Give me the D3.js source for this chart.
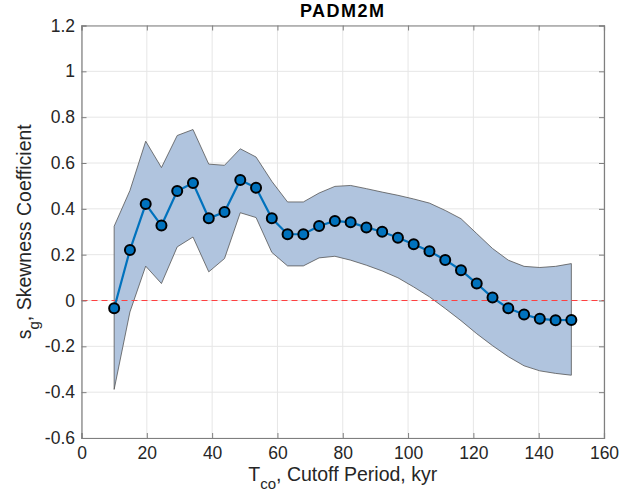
<!DOCTYPE html>
<html>
<head>
<meta charset="utf-8">
<script src="https://cdn.jsdelivr.net/npm/d3@7"></script>
<style>
  body { margin: 0; background: #fff; }
  text { font-family: "Liberation Sans", Arial, Helvetica, sans-serif; }
</style>
</head>
<body>
<div id="chart"></div>
<script>
// cutoff period (kyr)
const cutoff = [10, 14.83, 19.66, 24.48, 29.31, 34.14, 38.97, 43.79, 48.62, 53.45,
  58.28, 63.1, 67.93, 72.76, 77.59, 82.41, 87.24, 92.07, 96.9, 101.72,
  106.55, 111.38, 116.21, 121.03, 125.86, 130.69, 135.52, 140.34, 145.17, 150];
// skewness coefficient
const skew = [-0.034, 0.220, 0.421, 0.327, 0.478, 0.513, 0.359, 0.386, 0.526, 0.492,
  0.359, 0.289, 0.289, 0.325, 0.347, 0.341, 0.319, 0.300, 0.274, 0.245,
  0.215, 0.177, 0.132, 0.074, 0.013, -0.034, -0.061, -0.080, -0.086, -0.085];
// confidence band
const upper = [0.324, 0.48, 0.695, 0.58, 0.72, 0.746, 0.595, 0.59, 0.662, 0.626,
  0.52, 0.43, 0.43, 0.469, 0.498, 0.502, 0.488, 0.473, 0.459, 0.443,
  0.425, 0.393, 0.357, 0.292, 0.227, 0.176, 0.149, 0.144, 0.149, 0.161];
const lower = [-0.388, -0.05, 0.15, 0.074, 0.234, 0.277, 0.125, 0.183, 0.383, 0.362,
  0.21, 0.151, 0.151, 0.186, 0.193, 0.176, 0.154, 0.129, 0.099, 0.059,
  0.016, -0.035, -0.088, -0.145, -0.197, -0.245, -0.285, -0.307, -0.318, -0.326];

const xTicks = [0, 20, 40, 60, 80, 100, 120, 140, 160];
const yTicks = [-0.6, -0.4, -0.2, 0, 0.2, 0.4, 0.6, 0.8, 1, 1.2];

const width = 620, height = 493;
const margin = { top: 25.5, right: 16, bottom: 55, left: 81.5 };

const svg = d3.select('#chart').append('svg')
  .attr('width', width)
  .attr('height', height);

const x = d3.scaleLinear().domain([0, 160]).range([margin.left, width - margin.right]);
const y = d3.scaleLinear().domain([-0.6, 1.2]).range([height - margin.bottom, margin.top]);

//gridlines
const grid = svg.append('g');
grid.selectAll('.gx').data(xTicks).enter().append('line')
  .attr('x1', d => x(d)).attr('x2', d => x(d))
  .attr('y1', y(-0.6)).attr('y2', y(1.2))
  .attr('stroke', '#e6e6e6').attr('stroke-width', 1);
grid.selectAll('.gy').data(yTicks).enter().append('line')
  .attr('x1', x(0)).attr('x2', x(160))
  .attr('y1', d => y(d)).attr('y2', d => y(d))
  .attr('stroke', '#e6e6e6').attr('stroke-width', 1);

//band
const band = cutoff.map((c, i) => ({ x: c, lo: lower[i], hi: upper[i] }));
svg.append('path')
  .datum(band)
  .attr('d', d3.area().x(d => x(d.x)).y0(d => y(d.lo)).y1(d => y(d.hi)))
  .attr('fill', '#b0c4de')
  .attr('stroke', '#555')
  .attr('stroke-width', 0.8);

//zero line
svg.append('line')
  .attr('x1', x(0)).attr('x2', x(160))
  .attr('y1', y(0)).attr('y2', y(0))
  .attr('stroke', '#ff4040')
  .attr('stroke-width', 1)
  .attr('stroke-dasharray', '6,4');

//axes
const axisColor = '#7f7f7f';
const gx = svg.append('g').attr('transform', `translate(0,${y(-0.6)})`)
  .call(d3.axisBottom(x).tickValues(xTicks).tickSize(-5).tickPadding(8.5).tickFormat(d => String(d)));
const gxTop = svg.append('g').attr('transform', `translate(0,${y(1.2)})`)
  .call(d3.axisTop(x).tickValues(xTicks).tickSize(-5).tickFormat(''));
const gy = svg.append('g').attr('transform', `translate(${x(0)},0)`)
  .call(d3.axisLeft(y).tickValues(yTicks).tickSize(-5).tickPadding(6.5).tickFormat(d => String(+d.toFixed(1))));
const gyRight = svg.append('g').attr('transform', `translate(${x(160)},0)`)
  .call(d3.axisRight(y).tickValues(yTicks).tickSize(-5).tickFormat(''));

[gx, gxTop, gy, gyRight].forEach(g => {
  g.select('.domain').attr('stroke', axisColor).attr('stroke-width', 1.2);
  g.selectAll('.tick line').attr('stroke', axisColor);
  g.selectAll('.tick text').attr('fill', '#262626').attr('font-size', '17.5px')
    .style('font-family', '"Liberation Sans", Arial, sans-serif');
});

//line + markers
const pts = cutoff.map((c, i) => ({ x: c, y: skew[i] }));
svg.append('path')
  .datum(pts)
  .attr('d', d3.line().x(d => x(d.x)).y(d => y(d.y)))
  .attr('fill', 'none')
  .attr('stroke', '#0072bd')
  .attr('stroke-width', 2.2);

svg.selectAll('circle').data(pts).enter().append('circle')
  .attr('cx', d => x(d.x))
  .attr('cy', d => y(d.y))
  .attr('r', 5)
  .attr('fill', '#0072bd')
  .attr('stroke', '#000')
  .attr('stroke-width', 2);

//title
svg.append('text')
  .attr('x', (x(0) + x(160)) / 2)
  .attr('y', 17)
  .attr('text-anchor', 'middle')
  .attr('font-size', '18px')
  .attr('font-weight', 'bold')
  .attr('letter-spacing', '1.5px')
  .attr('fill', '#000')
  .text('PADM2M');

//x label
const xl = svg.append('text')
  .attr('x', (x(0) + x(160)) / 2)
  .attr('y', 481)
  .attr('text-anchor', 'middle')
  .attr('font-size', '19.5px')
  .attr('fill', '#262626');
xl.append('tspan').text('T');
xl.append('tspan').attr('dy', 8).attr('font-size', '15px').text('co');
xl.append('tspan').attr('dy', -8).text(', Cutoff Period, kyr');

//y label
const yl = svg.append('text')
  .attr('transform', `translate(31,${(y(-0.6) + y(1.2)) / 2}) rotate(-90)`)
  .attr('text-anchor', 'middle')
  .attr('font-size', '19.5px')
  .attr('fill', '#262626');
yl.append('tspan').text('s');
yl.append('tspan').attr('dy', 8).attr('font-size', '15px').text('g');
yl.append('tspan').attr('dy', -8).text(', Skewness Coefficient');
</script>
</body>
</html>
